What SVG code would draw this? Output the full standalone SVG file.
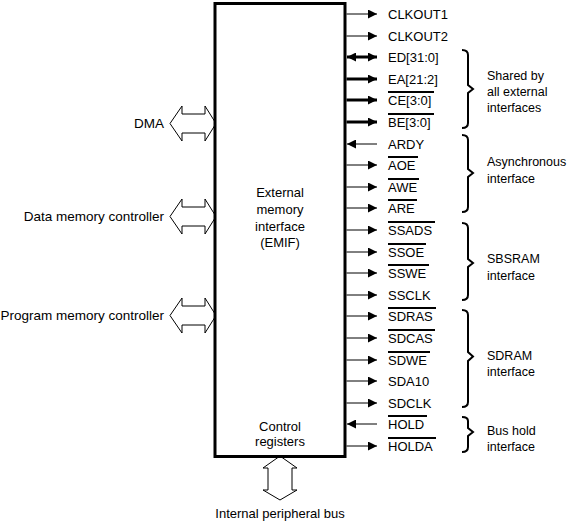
<svg xmlns="http://www.w3.org/2000/svg" width="575" height="524" viewBox="0 0 575 524">
<style>
text{font-family:"Liberation Sans",Arial,sans-serif;fill:#000}
.sig{font-size:13px}
.lab{font-size:12.5px}
.big{font-size:13px}
.lft{font-size:13.5px}
.mid{text-anchor:middle}
.end{text-anchor:end}
.w{stroke:#000;stroke-width:1;fill:none}
.t{stroke:#000;stroke-width:3;fill:none}
.ob{stroke:#000;stroke-width:2}
.br{stroke:#000;stroke-width:2;fill:none}
.bus{fill:#fff;stroke:#000;stroke-width:1}
</style>
<defs>
<marker id="ah" viewBox="0 0 9 9" refX="9" refY="4.5" markerWidth="9" markerHeight="9" markerUnits="userSpaceOnUse" orient="auto-start-reverse">
<path d="M0,0 L9,4.5 L0,9 z" fill="#000"/>
</marker>
</defs>

<g id="bus-arrows">
<polygon class="bus" points="170,123.5 182,106 182,114 205,114 205,106 216,123.5 205,141 205,133 182,133 182,141"/>
<polygon class="bus" points="170,216.5 182,199 182,207 205,207 205,199 216,216.5 205,234 205,226 182,226 182,234"/>
<polygon class="bus" points="170,315.5 182,298 182,306 205,306 205,298 216,315.5 205,333 205,325 182,325 182,333"/>
<polygon class="bus" points="280,456 297,468 292,468 292,490 297,490 280,500 263,490 268,490 268,468 263,468"/>
</g>

<g id="emif">
<rect x="215" y="3.5" width="130" height="453" fill="#fff" stroke="#000" stroke-width="3"/>
<text class="big mid" x="280" y="197">External</text>
<text class="big mid" x="280" y="213.5">memory</text>
<text class="big mid" x="280" y="230.5">interface</text>
<text class="big mid" x="280" y="247">(EMIF)</text>
<text class="big mid" x="280" y="431">Control</text>
<text class="big mid" x="280" y="446">registers</text>
</g>

<g id="left-labels">
<text class="lft end" x="164" y="128">DMA</text>
<text class="lft end" x="164" y="221">Data memory controller</text>
<text class="lft end" x="164" y="320">Program memory controller</text>
<text class="big mid" x="280" y="518">Internal peripheral bus</text>
</g>

<g id="connectors">
<line class="w" x1="346.5" y1="14" x2="377" y2="14" marker-end="url(#ah)"/>
<line class="w" x1="346.5" y1="36" x2="377" y2="36" marker-end="url(#ah)"/>
<line class="t" x1="347" y1="57" x2="377" y2="57" marker-start="url(#ah)" marker-end="url(#ah)"/>
<line class="t" x1="346.5" y1="79" x2="377" y2="79" marker-end="url(#ah)"/>
<line class="t" x1="346.5" y1="100" x2="377" y2="100" marker-end="url(#ah)"/>
<line class="t" x1="346.5" y1="122" x2="377" y2="122" marker-end="url(#ah)"/>
<line class="w" x1="377" y1="144" x2="347" y2="144" marker-end="url(#ah)"/>
<line class="w" x1="346.5" y1="165" x2="377" y2="165" marker-end="url(#ah)"/>
<line class="w" x1="346.5" y1="187" x2="377" y2="187" marker-end="url(#ah)"/>
<line class="w" x1="346.5" y1="208" x2="377" y2="208" marker-end="url(#ah)"/>
<line class="w" x1="346.5" y1="230" x2="377" y2="230" marker-end="url(#ah)"/>
<line class="w" x1="346.5" y1="252" x2="377" y2="252" marker-end="url(#ah)"/>
<line class="w" x1="346.5" y1="273" x2="377" y2="273" marker-end="url(#ah)"/>
<line class="w" x1="346.5" y1="295" x2="377" y2="295" marker-end="url(#ah)"/>
<line class="w" x1="346.5" y1="316" x2="377" y2="316" marker-end="url(#ah)"/>
<line class="w" x1="346.5" y1="338" x2="377" y2="338" marker-end="url(#ah)"/>
<line class="w" x1="346.5" y1="360" x2="377" y2="360" marker-end="url(#ah)"/>
<line class="w" x1="346.5" y1="381" x2="377" y2="381" marker-end="url(#ah)"/>
<line class="w" x1="346.5" y1="403" x2="377" y2="403" marker-end="url(#ah)"/>
<line class="w" x1="377" y1="424" x2="347" y2="424" marker-end="url(#ah)"/>
<line class="w" x1="346.5" y1="446" x2="377" y2="446" marker-end="url(#ah)"/>
</g>

<g id="signals">
<text class="sig" x="388" y="19">CLKOUT1</text>
<text class="sig" x="388" y="41">CLKOUT2</text>
<text class="sig" x="388" y="62">ED[31:0]</text>
<text class="sig" x="388" y="84">EA[21:2]</text>
<text class="sig" x="388" y="105">CE[3:0]</text>
<text class="sig" x="388" y="127">BE[3:0]</text>
<text class="sig" x="388" y="149">ARDY</text>
<text class="sig" x="388" y="170">AOE</text>
<text class="sig" x="388" y="192">AWE</text>
<text class="sig" x="388" y="213">ARE</text>
<text class="sig" x="388" y="235">SSADS</text>
<text class="sig" x="388" y="257">SSOE</text>
<text class="sig" x="388" y="278">SSWE</text>
<text class="sig" x="388" y="300">SSCLK</text>
<text class="sig" x="388" y="321">SDRAS</text>
<text class="sig" x="388" y="343">SDCAS</text>
<text class="sig" x="388" y="365">SDWE</text>
<text class="sig" x="388" y="386">SDA10</text>
<text class="sig" x="388" y="408">SDCLK</text>
<text class="sig" x="388" y="429">HOLD</text>
<text class="sig" x="388" y="451">HOLDA</text>
</g>

<g id="overbars">
<line class="ob" x1="388" y1="92" x2="434" y2="92"/>
<line class="ob" x1="388" y1="114" x2="434" y2="114"/>
<line class="ob" x1="388" y1="157" x2="418" y2="157"/>
<line class="ob" x1="388" y1="179" x2="419" y2="179"/>
<line class="ob" x1="388" y1="200" x2="417" y2="200"/>
<line class="ob" x1="388" y1="222" x2="435" y2="222"/>
<line class="ob" x1="388" y1="244" x2="426" y2="244"/>
<line class="ob" x1="388" y1="265" x2="429" y2="265"/>
<line class="ob" x1="388" y1="308" x2="436" y2="308"/>
<line class="ob" x1="388" y1="330" x2="435" y2="330"/>
<line class="ob" x1="388" y1="352" x2="430" y2="352"/>
<line class="ob" x1="388" y1="416" x2="427" y2="416"/>
<line class="ob" x1="388" y1="438" x2="436" y2="438"/>
</g>

<g id="groups">
<path class="br" d="M462,50 Q468,50 468,55 V85 L473,89 L468,93 V123 Q468,128 462,128"/>
<text class="lab" x="487" y="79.5">Shared by</text>
<text class="lab" x="487" y="95.5">all external</text>
<text class="lab" x="487" y="111.5">interfaces</text>
<path class="br" d="M462,135 Q468,135 468,140 V169 L473,173 L468,177 V207 Q468,212 462,212"/>
<text class="lab" x="487" y="166">Asynchronous</text>
<text class="lab" x="487" y="183">interface</text>
<path class="br" d="M462,223 Q468,223 468,228 V259 L473,263 L468,267 V295 Q468,300 462,300"/>
<text class="lab" x="487" y="263">SBSRAM</text>
<text class="lab" x="487" y="279.5">interface</text>
<path class="br" d="M462,310 Q468,310 468,315 V352 L473,356.5 L468,361 V402 Q468,407 462,407"/>
<text class="lab" x="487" y="359.5">SDRAM</text>
<text class="lab" x="487" y="376">interface</text>
<path class="br" d="M462,417 Q468,417 468,421 V428 L473,432 L468,436 V447 Q468,452 462,452"/>
<text class="lab" x="487" y="434.5">Bus hold</text>
<text class="lab" x="487" y="451">interface</text>
</g>
</svg>
